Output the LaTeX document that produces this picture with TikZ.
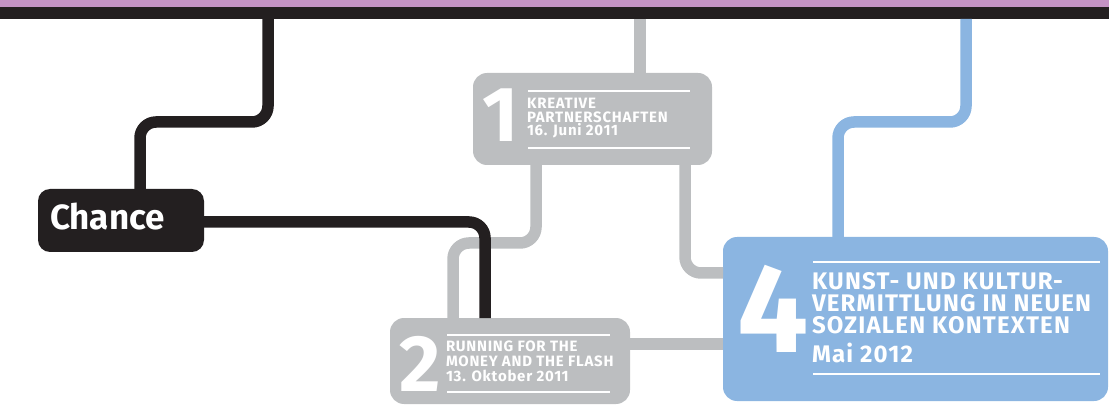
\documentclass[tikz,border=0pt]{standalone}
\usepackage{fontspec}
\setmainfont{Fira Sans}
\newfontfamily\dinfont[LetterSpace=5]{Fira Sans}
\usetikzlibrary{positioning}
\definecolor{lila}{RGB}{196,147,196}
\definecolor{ink}{RGB}{35,31,32}
\definecolor{stone}{RGB}{188,190,192}
\definecolor{sky}{RGB}{139,181,225}
\begin{document}
\begin{tikzpicture}[x=1pt,y=-1pt]
	\tikzset{every node/.style={inner sep=0pt, outer sep=0pt},
		box/.style={rounded corners=14pt, anchor=north west},
		wire/.style={line width=11.5pt, rounded corners=16pt},
		rule/.style={white, line width=1.3pt},
		big/.style={white, anchor=base west, font={\fontsize{#1}{#1}\selectfont\bfseries}},
		label/.style={white, anchor=base west, align=left}}
	\useasboundingbox (0,0) rectangle (1109,406);
	% top bands
	\fill [lila] (0,0) rectangle (1109,7);
	\node [fill=ink, anchor=north west, minimum width=1109pt, minimum height=12pt] (band) at (0,7) {};
	% boxes
	\node [box, fill=ink, rounded corners=12pt, minimum width=166pt, minimum height=63pt] (chance) at (38,189) {};
	\node [white, anchor=base west, font={\fontsize{35}{35}\selectfont\bfseries}] (chancetxt) at (50,230) {Chance};
	\node [box, fill=stone, minimum width=239pt, minimum height=92pt] (b1) at (473,73) {};
	\node [box, fill=stone, minimum width=240pt, minimum height=86pt] (b2) at (390,318) {};
	\node [box, fill=sky, minimum width=385pt, minimum height=164pt] (b4) at (723,237) {};
	% box 1
	\node [big=78] (n1) at (482,142) {1};
	\node [label, font={\dinfont\fontsize{15}{13.9}\selectfont\bfseries}] (t1) at (527,136) {KREATIVE\\PARTNERSCHAFTEN\\16. Juni 2011};
	\draw [rule] (528,91) -- (690,91);
	\draw [rule] (528,148) -- (690,148);
	% box 2
	\node [big=80] (n2) at (399,391) {2};
	\node [label, font={\dinfont\fontsize{15}{15}\selectfont\bfseries}] (t2) at (446,381.7) {RUNNING FOR THE\\MONEY AND THE FLASH\\13. Oktober 2011};
	\draw [rule] (447,335) -- (610,335);
	\draw [rule] (447,392) -- (610,392);
	% box 4
	\node [big=126] (n4) at (737,352) {4};
	\node [label, font={\dinfont\fontsize{24}{21.6}\selectfont\bfseries}] (t4) at (812,333) {KUNST- UND KULTUR-\\VERMITTLUNG IN NEUEN\\SOZIALEN KONTEXTEN};
	\node [label, font={\dinfont\fontsize{24}{24}\selectfont\bfseries}] (d4) at (812,362) {Mai 2012};
	\draw [rule] (813,262) -- (1100,262);
	\draw [rule] (813,374) -- (1100,374);
	% grey connectors
	\draw [wire, stone] ([xshift=640pt]band.south west) -- ([xshift=167pt]b1.north west);
	\draw [wire, stone] ([xshift=63pt]b1.south west) -- (536,243) -- (453,243) -- ([xshift=63pt]b2.north west);
	\draw [wire, stone] ([xshift=212pt]b1.south west) -- (685,273) -- ([yshift=-36pt]b4.north west);
	\draw [wire, stone] ([yshift=-26pt]b2.north east) -- ([yshift=-107pt]b4.north west);
	% black connectors
	\draw [wire, ink] ([xshift=268pt]band.south west) -- (268,122) -- (140,122) -- ([xshift=102pt]chance.north west);
	\draw [wire, ink] ([yshift=-33pt]chance.north east) -- (485,222) -- ([xshift=95pt]b2.north west);
	% blue connector
	\draw [wire, sky] ([xshift=966pt]band.south west) -- (966,122) -- (838,122) -- ([xshift=115pt]b4.north west);
\end{tikzpicture}
\end{document}
